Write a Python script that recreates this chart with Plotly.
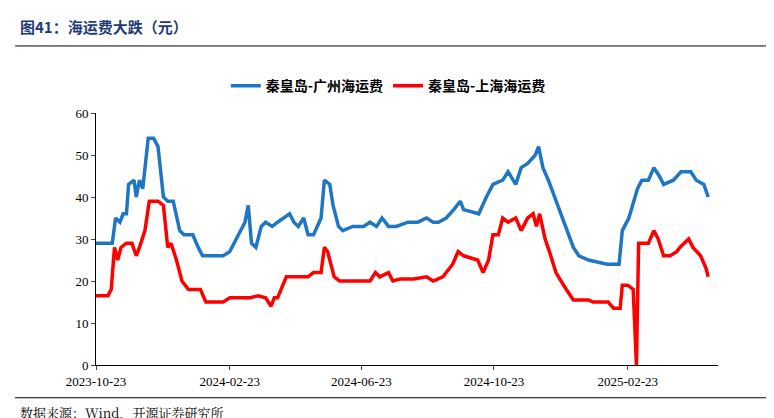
import pandas as pd
import plotly.graph_objects as go

start = pd.Timestamp("2023-10-23")

# days since 2023-10-23
qhd_gz_days = [0, 15, 18, 22, 25, 28, 30, 35, 37, 40, 43, 48, 53, 57, 62, 66, 71, 77, 81, 89,
               94, 98, 117, 123, 131, 137, 140, 143, 147, 152, 156, 162, 167, 173, 178, 182, 186, 191, 195, 200,
               207, 210, 215, 218, 223, 227, 236, 246, 252, 258, 263, 269, 276, 287, 296, 304, 310, 315, 322, 329,
               335, 338, 352, 359, 365, 374, 379, 386, 391, 397, 404, 407, 411, 416, 423, 430, 439, 444, 453, 470,
               481, 484, 490, 498, 502, 508, 513, 518, 522, 531, 538, 547, 552, 559, 563]
qhd_gz_vals = [29, 29, 35, 34, 36, 36, 43, 44, 40, 44, 42, 54, 54, 52, 40, 39, 39, 32, 31, 31,
               28, 26, 26, 27, 31, 34, 38, 29, 28, 33, 34, 33, 34, 35, 36, 34, 33, 35, 31, 31,
               35, 44, 43, 38, 33, 32, 33, 33, 34, 33, 35, 33, 33, 34, 34, 35, 34, 34, 35, 37,
               39, 37, 36, 40, 43, 44, 46, 43, 47, 48, 50, 52, 47, 44, 39, 34, 28, 26, 25, 24,
               24, 32, 35, 42, 44, 44, 47, 45, 43, 44, 46, 46, 44, 43, 40]

qhd_sh_days = [0, 11, 14, 17, 20, 23, 28, 33, 37, 40, 45, 49, 57, 62, 66, 69, 74, 79, 85, 96,
               101, 117, 123, 131, 142, 149, 156, 161, 164, 167, 175, 181, 188, 195, 200, 207, 210, 213, 219, 224,
               232, 246, 252, 257, 261, 269, 273, 280, 292, 304, 310, 319, 328, 333, 338, 351, 356, 361, 365, 370,
               374, 379, 386, 391, 397, 402, 405, 408, 413, 417, 423, 430, 439, 453, 457, 471, 476, 482, 484, 489,
               494, 497, 499, 508, 513, 517, 522, 528, 534, 537, 545, 549, 556, 561, 563]
qhd_sh_vals = [16.5, 16.5, 18, 28, 25, 28, 29, 29, 26, 28, 32, 39, 39, 38, 28, 29, 25, 20, 18, 18,
               15, 15, 16, 16, 16, 16.5, 16, 14, 16, 16, 21, 21, 21, 21, 22, 22, 28, 27, 21, 20,
               20, 20, 20, 22, 21, 22, 20, 20.5, 20.5, 21, 20, 21, 24, 27, 26, 25, 22, 25, 31, 31,
               35, 34, 35, 32, 35, 36, 33, 36, 30, 27, 22, 19, 15.5, 15.5, 15, 15, 13.5, 13.5, 19, 19,
               18, 0, 29, 29, 32, 30, 26, 26, 27, 28, 30, 28, 26, 23, 21]

tick_dates = ["2023-10-23", "2024-02-23", "2024-06-23", "2024-10-23", "2025-02-23"]

serif = "Liberation Serif"

fig = go.Figure()
fig.add_trace(go.Scatter(x=start + pd.to_timedelta(qhd_gz_days, unit="D"), y=qhd_gz_vals,
                         mode="lines", name="<b>秦皇岛-广州海运费</b>", line=dict(color="#1F77C4", width=3.5)))
fig.add_trace(go.Scatter(x=start + pd.to_timedelta(qhd_sh_days, unit="D"), y=qhd_sh_vals,
                         mode="lines", name="<b>秦皇岛-上海海运费</b>", line=dict(color="#FF0000", width=3.5)))

fig.update_xaxes(range=[start, start + pd.Timedelta(days=572)], tickvals=tick_dates, ticktext=tick_dates,
                 showline=True, linecolor="black", linewidth=1, ticks="outside", ticklen=4,
                 showgrid=False, automargin=False, tickfont=dict(family=serif, size=13, color="black"))
fig.update_yaxes(range=[0, 60], dtick=10, showline=True, linecolor="black", linewidth=1,
                 ticks="outside", ticklen=4, showgrid=False, zeroline=False, automargin=False,
                 tickfont=dict(family=serif, size=13, color="black"))

fig.update_layout(
    width=774, height=418, plot_bgcolor="white", paper_bgcolor="white",
    margin=dict(l=88, r=64, t=105, b=61, autoexpand=False),
    legend=dict(orientation="h", x=0.47, xanchor="center", y=1.107, yanchor="middle",
                font=dict(family="Noto Sans CJK SC", size=14, color="black"),
                tracegroupgap=0),
    annotations=[
        dict(text="<b>图41：海运费大跌（元）</b>", xref="paper", yref="paper", x=-0.125, y=1.345,
             xanchor="left", yanchor="middle", showarrow=False,
             font=dict(family="Noto Sans CJK SC", size=15, color="#1F3C78")),
        dict(text="数据来源：Wind、开源证券研究所", xref="paper", yref="paper", x=-0.125, y=-0.19,
             xanchor="left", yanchor="middle", showarrow=False,
             font=dict(family="Noto Serif CJK SC, " + serif, size=13, color="black")),
    ],
    shapes=[
        dict(type="line", xref="paper", yref="paper", x0=-0.13, x1=1.09, y0=1.266, y1=1.266,
             line=dict(color="black", width=1)),
        dict(type="line", xref="paper", yref="paper", x0=-0.13, x1=1.09, y0=-0.13, y1=-0.13,
             line=dict(color="black", width=1)),
    ],
)

fig.write_html("out.html")
